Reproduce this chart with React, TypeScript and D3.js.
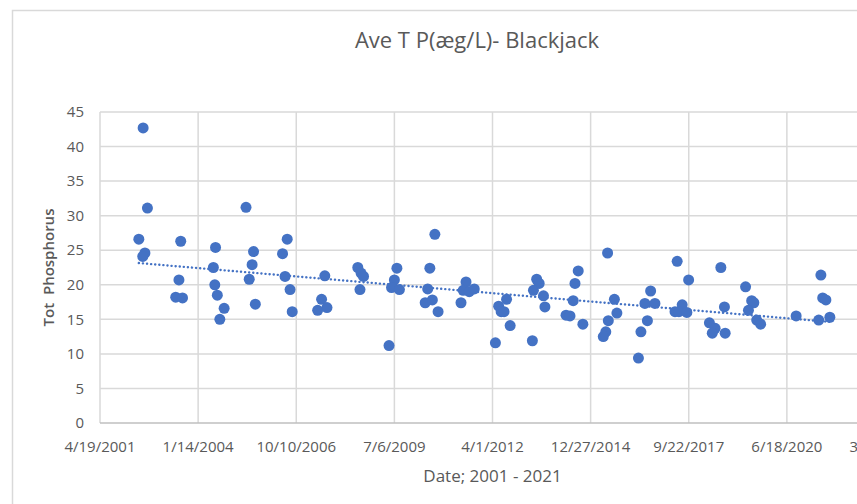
import React, { useEffect, useRef } from 'react';
import * as d3 from 'd3';

// sampling dates, as decimal years
const sampleYears = [
  2002.50, 2002.62, 2002.38, 2002.55, 2002.49, 2003.55, 2003.50, 2003.41, 2003.60, 2004.52,
  2004.46, 2004.50, 2004.57, 2004.76, 2004.64, 2005.37, 2005.58, 2005.54, 2005.46, 2005.63,
  2006.52, 2006.39, 2006.46, 2006.60, 2006.66, 2007.57, 2007.48, 2007.63, 2007.37, 2008.49,
  2008.58, 2008.65, 2008.55, 2009.58, 2009.51, 2009.43, 2009.65, 2009.36, 2010.64, 2010.50,
  2010.44, 2010.37, 2010.57, 2010.73, 2011.51, 2011.43, 2011.60, 2011.74, 2011.37, 2012.33,
  2012.42, 2012.64, 2012.49, 2012.57, 2012.74, 2013.48, 2013.55, 2013.39, 2013.67, 2013.71,
  2013.36, 2014.64, 2014.55, 2014.50, 2014.30, 2014.41, 2014.77, 2015.46, 2015.65, 2015.72,
  2015.48, 2015.41, 2015.34, 2016.32, 2016.66, 2016.50, 2016.78, 2016.57, 2016.39, 2017.40,
  2017.72, 2017.34, 2017.54, 2017.45, 2017.67, 2018.62, 2019.31, 2018.72, 2019.48, 2019.54,
  2019.39, 2019.62, 2019.73, 2018.30, 2018.46, 2018.38, 2018.74, 2020.72, 2021.41, 2021.46,
  2021.55, 2021.35, 2021.66,
];

// total phosphorus values (ug/L)
const totP = [
  42.7, 31.1, 26.6, 24.6, 24.1, 26.3, 20.7, 18.2, 18.1, 25.4,
  22.5, 20.0, 18.5, 16.6, 15.0, 31.2, 24.8, 22.9, 20.8, 17.2,
  26.6, 24.5, 21.2, 19.3, 16.1, 21.3, 17.9, 16.7, 16.3, 22.5,
  21.7, 21.2, 19.3, 22.4, 20.7, 19.6, 19.3, 11.2, 27.3, 22.4,
  19.4, 17.4, 17.8, 16.1, 20.4, 19.2, 19.0, 19.4, 17.4, 11.6,
  16.9, 17.9, 16.1, 16.1, 14.1, 20.8, 20.2, 19.2, 18.4, 16.8,
  11.9, 22.0, 20.2, 17.7, 15.6, 15.5, 14.3, 24.6, 17.9, 15.9,
  14.8, 13.2, 12.5, 9.4, 19.1, 17.3, 17.3, 14.8, 13.2, 23.4,
  20.7, 16.1, 17.1, 16.1, 16.0, 22.5, 19.7, 16.8, 17.7, 17.4,
  16.3, 14.9, 14.3, 14.5, 13.7, 13.0, 13.0, 15.5, 21.4, 18.1,
  17.8, 14.9, 15.3,
];

// Excel axis: start 4/19/2001, major unit 1000 days
const axisStart = new Date(2001, 3, 19);
const tickCount = 9;
const yTicks = [0, 5, 10, 15, 20, 25, 30, 35, 40, 45];

const toDate = (yr: number) => {
  const y = Math.floor(yr);
  const start = new Date(y, 0, 1).getTime();
  const end = new Date(y + 1, 0, 1).getTime();
  return new Date(start + (yr - y) * (end - start));
};

const App = () => {
  const svgRef = useRef<SVGSVGElement>(null);

  useEffect(() => {
    const svg = d3.select(svgRef.current);
    svg.selectAll('*').remove();

    const width = 857;
    const height = 504;
    const left = 100;
    const right = 885; // plot runs past the cropped edge
    const top = 112;
    const bottom = 423;
    const font = "'Open Sans', sans-serif";
    const grey = '#595959';
    const blue = '#4472C4';

    const xTicks = d3.range(tickCount).map((i) => d3.timeDay.offset(axisStart, i * 1000));
    const x = d3.scaleTime().domain([xTicks[0], xTicks[tickCount - 1]]).range([left, right]);
    const y = d3.scaleLinear().domain([0, 45]).range([bottom, top]);

    svg.append('rect').attr('width', width).attr('height', height).attr('fill', '#fff');

    // chart area frame
    svg.append('path')
      .attr('d', `M12.5,${height} V10.5 H${width}`)
      .attr('fill', 'none')
      .attr('stroke', '#d9d9d9')
      .attr('stroke-width', 1.5);

    // gridlines
    svg.append('g')
      .selectAll('line')
      .data(yTicks.slice(1))
      .enter()
      .append('line')
      .attr('x1', left)
      .attr('x2', right)
      .attr('y1', (d) => y(d))
      .attr('y2', (d) => y(d))
      .attr('stroke', '#d9d9d9')
      .attr('stroke-width', 1.5);

    svg.append('g')
      .selectAll('line')
      .data(xTicks)
      .enter()
      .append('line')
      .attr('x1', (d) => x(d))
      .attr('x2', (d) => x(d))
      .attr('y1', top)
      .attr('y2', bottom)
      .attr('stroke', '#d9d9d9')
      .attr('stroke-width', 1.5);

    svg.append('line')
      .attr('x1', left)
      .attr('x2', right)
      .attr('y1', y(0))
      .attr('y2', y(0))
      .attr('stroke', '#bfbfbf')
      .attr('stroke-width', 1.5);

    // y tick labels
    svg.append('g')
      .selectAll('text')
      .data(yTicks)
      .enter()
      .append('text')
      .attr('x', 84)
      .attr('y', (d) => y(d))
      .attr('dy', '0.35em')
      .attr('text-anchor', 'end')
      .attr('font-family', font)
      .attr('font-size', 15)
      .attr('fill', grey)
      .text((d) => d);

    // x tick labels (last one is cut by the crop, as in the source)
    const fmt = (d: Date) => `${d.getMonth() + 1}/${d.getDate()}/${d.getFullYear()}`;
    svg.append('g')
      .selectAll('text')
      .data(xTicks)
      .enter()
      .append('text')
      .attr('x', (d) => x(d))
      .attr('y', 452)
      .attr('text-anchor', 'middle')
      .attr('font-family', font)
      .attr('font-size', 15)
      .attr('fill', grey)
      .text((d) => fmt(d));

    // titles
    svg.append('text')
      .attr('x', 477)
      .attr('y', 48)
      .attr('text-anchor', 'middle')
      .attr('font-family', font)
      .attr('font-size', 22)
      .attr('fill', grey)
      .text('Ave T P(æg/L)- Blackjack');

    svg.append('text')
      .attr('x', (left + right) / 2)
      .attr('y', 482)
      .attr('text-anchor', 'middle')
      .attr('font-family', font)
      .attr('font-size', 17)
      .attr('fill', grey)
      .text('Date; 2001 - 2021');

    svg.append('text')
      .attr('transform', `translate(54,${(top + bottom) / 2}) rotate(-90)`)
      .attr('text-anchor', 'middle')
      .attr('font-family', font)
      .attr('font-size', 15)
      .attr('font-weight', 600)
      .attr('fill', grey)
      .style('white-space', 'pre')
      .text('Tot  Phosphorus');

    const pts = sampleYears.map((yr, i) => ({ date: toDate(yr), v: totP[i] }));

    // linear trendline (least squares)
    const xs = pts.map((p) => p.date.getTime());
    const mx = d3.mean(xs) as number;
    const my = d3.mean(pts, (p) => p.v) as number;
    const slope =
      (d3.sum(pts, (p) => (p.date.getTime() - mx) * (p.v - my)) as number) /
      (d3.sum(xs, (t) => (t - mx) * (t - mx)) as number);
    const t0 = d3.min(xs) as number;
    const t1 = d3.max(xs) as number;
    const line = d3.line<number>()
      .x((t) => x(new Date(t)))
      .y((t) => y(my + slope * (t - mx)));

    svg.append('path')
      .attr('d', line([t0, t1]))
      .attr('fill', 'none')
      .attr('stroke', blue)
      .attr('stroke-width', 2.4)
      .attr('stroke-dasharray', '0.1,4')
      .attr('stroke-linecap', 'round');

    svg.append('g')
      .selectAll('circle')
      .data(pts)
      .enter()
      .append('circle')
      .attr('cx', (d) => x(d.date))
      .attr('cy', (d) => y(d.v))
      .attr('r', 5.5)
      .attr('fill', blue);
  }, []);

  return (
    <svg
      ref={svgRef}
      width={857}
      height={504}
      style={{ position: 'absolute', left: 0, top: 0 }}
    />
  );
};

export default App;
